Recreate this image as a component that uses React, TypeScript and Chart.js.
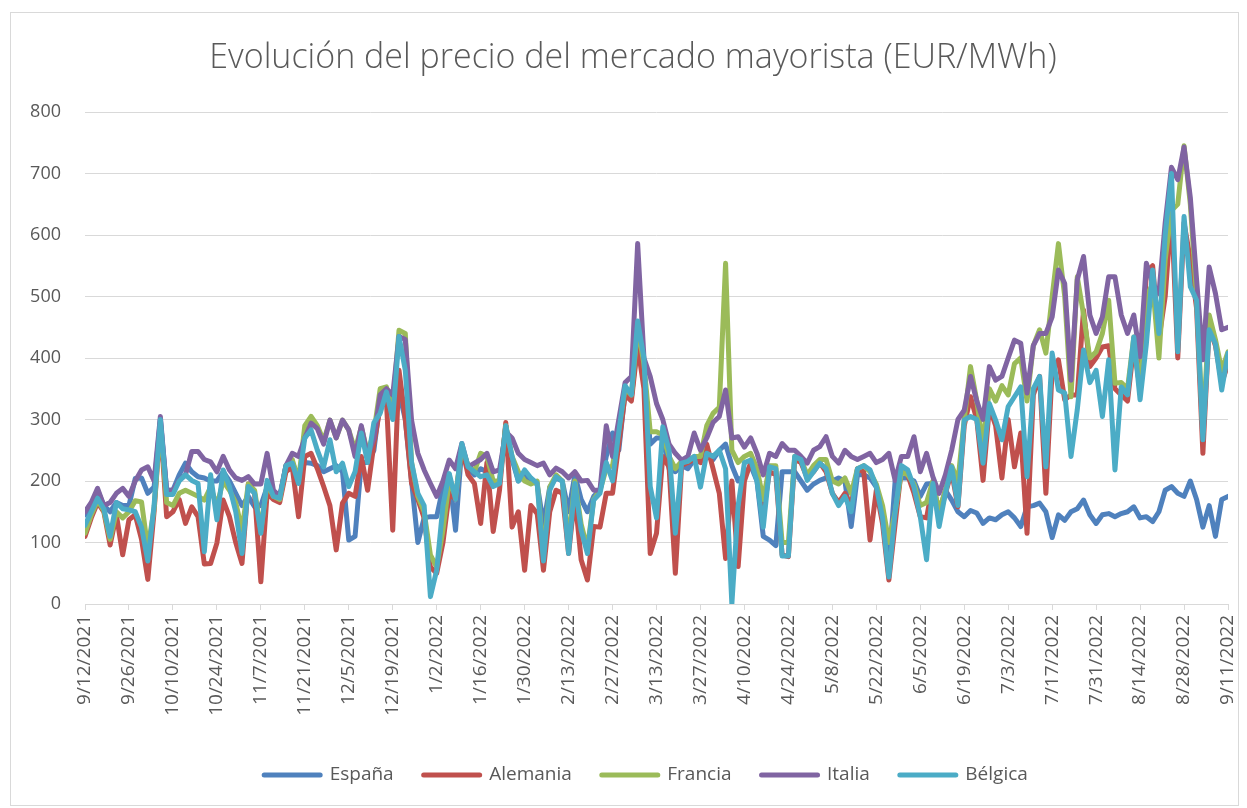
import React, { useEffect, useRef } from 'react';
import { Chart, registerables } from 'chart.js';

Chart.register(...registerables);

// X axis tick labels (every 14 days, starting 9/12/2021)
const tickLabels = ['9/12/2021','9/26/2021','10/10/2021','10/24/2021','11/7/2021','11/21/2021','12/5/2021','12/19/2021','1/2/2022','1/16/2022','1/30/2022','2/13/2022','2/27/2022','3/13/2022','3/27/2022','4/10/2022','4/24/2022','5/8/2022','5/22/2022','6/5/2022','6/19/2022','7/3/2022','7/17/2022','7/31/2022','8/14/2022','8/28/2022','9/11/2022'];
const yTicks = [0, 100, 200, 300, 400, 500, 600, 700, 800];
const seriesNames = ['España', 'Alemania', 'Francia', 'Italia', 'Bélgica'];
const seriesColors = ['#4F81BD', '#C0504D', '#9BBB59', '#8064A2', '#4BACC6'];

// Values read every second day from 9/12/2021 (day 0) to 9/11/2022 (day 364)
const espana = [
145,160,185,160,150,165,160,
160,204,205,180,190,300,185,
185,210,229,215,207,205,200,
200,215,200,180,160,175,158,
160,190,180,172,225,230,205,
230,229,225,215,220,225,215,
104,110,230,230,250,330,345,
340,345,300,200,100,140,142,
142,190,210,120,255,220,210,
220,215,195,200,290,235,200,
210,200,195,130,190,205,200,
150,210,170,150,175,185,240,
278,250,345,335,430,380,260,
270,270,220,215,225,220,235,
235,240,235,250,260,225,200,
210,225,200,110,104,95,215,
215,215,200,185,195,201,205,
200,205,200,126,210,210,205,
190,140,60,200,205,205,200,
175,195,196,150,185,169,150,
142,152,148,131,140,137,145,
150,140,126,158,160,164,150,
108,145,136,150,155,169,145,
131,145,147,142,147,150,158,
140,142,134,150,185,191,180,
175,200,170,125,160,110,170,
175];

const alemania = [
110,140,165,150,96,145,80,
137,145,105,40,150,295,142,
150,170,131,158,142,65,66,
99,169,142,100,66,195,180,
36,180,170,165,215,223,142,
240,245,220,191,160,88,164,
180,175,240,185,260,320,330,
120,380,300,196,170,140,60,
50,100,180,170,255,210,196,
131,230,118,185,295,125,150,
55,160,147,55,150,185,180,
82,175,72,39,126,125,180,
180,260,340,330,420,350,82,
115,240,223,50,225,230,235,
230,260,220,180,74,200,61,
200,230,215,150,215,210,80,
77,235,230,205,215,230,215,
180,165,180,160,220,215,104,
185,130,39,130,220,210,180,
142,140,195,140,180,215,158,
290,337,300,201,320,290,205,
300,223,278,115,340,370,180,
380,397,332,340,340,478,386,
400,418,420,350,340,330,420,
350,540,550,430,500,640,400,
620,560,480,245,450,420,360,
390];

const francia = [
115,145,168,152,105,150,140,
150,168,166,90,155,295,165,
160,180,185,180,175,169,190,
160,200,185,165,120,195,185,
120,195,175,170,225,235,200,
290,305,290,265,299,270,299,
283,250,288,245,280,350,353,
320,445,440,230,175,150,80,
60,120,200,175,255,225,215,
245,240,200,200,290,240,215,
200,195,200,80,190,210,200,
100,200,130,90,170,185,220,
225,285,350,340,450,390,280,
280,275,240,220,232,232,240,
240,290,310,320,554,250,230,
240,245,220,170,225,225,100,
100,240,235,210,225,235,235,
200,195,205,180,220,225,215,
195,160,100,150,215,210,195,
160,165,200,150,185,225,200,
300,386,330,260,350,330,355,
340,391,400,330,420,446,408,
500,586,500,337,532,470,400,
410,440,494,359,360,350,434,
345,500,520,400,560,640,650,
745,650,500,280,470,430,380,
410];

const italia = [
150,165,188,160,165,180,188,
175,200,218,223,200,305,185,
185,201,210,248,248,235,231,
215,240,218,205,201,207,195,
195,245,185,175,225,245,240,
270,294,285,260,299,270,299,
283,240,290,240,270,340,350,
340,435,430,299,245,218,196,
175,200,234,220,261,223,229,
235,245,215,218,280,270,245,
235,230,225,229,210,221,215,
205,215,200,201,185,185,290,
240,300,360,370,586,400,370,
326,300,260,245,234,240,278,
250,270,295,305,348,270,272,
255,270,245,210,245,240,261,
250,250,240,229,250,256,272,
240,229,250,240,235,240,245,
230,235,245,201,240,240,272,
215,245,207,180,210,250,300,
315,370,330,300,386,364,370,
400,429,424,343,420,440,440,
467,543,521,364,527,565,470,
440,467,532,532,470,440,470,
402,554,520,505,620,710,690,
743,661,527,397,548,505,446,
450];

const belgica = [
128,150,172,155,110,165,155,
153,150,125,70,160,300,178,
178,200,210,201,196,85,210,
137,218,191,150,82,191,180,
115,201,175,172,225,229,196,
270,283,250,223,267,215,229,
191,215,278,230,295,310,345,
300,435,380,230,180,160,12,
55,160,212,170,261,223,215,
207,210,191,196,290,240,200,
218,205,196,70,185,207,200,
82,196,120,82,169,180,230,
200,280,355,340,460,400,191,
140,288,250,115,229,232,240,
190,245,240,250,220,0,160,
230,234,200,125,223,220,78,
78,240,235,201,215,229,220,
180,160,175,150,220,225,218,
191,140,44,150,225,218,190,
142,72,196,126,180,223,160,
299,305,300,229,326,299,267,
321,337,353,207,350,370,223,
408,348,343,240,316,413,360,
380,305,397,218,353,340,434,
332,423,543,440,600,700,410,
630,516,494,267,446,423,348,
408];

const seriesValues = [espana, alemania, francia, italia, belgica];

const boxShift = {
  id: 'boxShift',
  afterLayout(chart: any) {
    if (chart.legend) {
      chart.legend.left += 27;
      chart.legend.right += 27;
    }
    if (chart.titleBlock) {
      chart.titleBlock.left += 14;
      chart.titleBlock.right += 14;
    }
  },
};

export default function App() {
  const ref = useRef<HTMLCanvasElement>(null);

  useEffect(() => {
    document.body.style.margin = '0';
    Chart.defaults.font.family = "'Open Sans', sans-serif";
    Chart.defaults.color = '#595959';
    const days = espana.map((_, i) => i * 2);

    const datasets = seriesNames.map((name, s) => ({
      label: name,
      data: seriesValues[s].map((v, i) => ({ x: days[i], y: v })),
      borderColor: seriesColors[s],
      backgroundColor: seriesColors[s],
      borderWidth: 5,
      pointRadius: 0,
      pointHoverRadius: 0,
      tension: 0,
      borderJoinStyle: 'round' as const,
      borderCapStyle: 'round' as const,
      order: seriesNames.length - s,
    }));

    const chart = new Chart(ref.current as HTMLCanvasElement, {
      type: 'line',
      data: { datasets },
      plugins: [boxShift],
      options: {
        animation: false,
        responsive: false,
        events: [],
        layout: { padding: { left: 10, right: 19, top: 0, bottom: 13.5 } },
        plugins: {
          title: {
            display: true,
            text: 'Evolución del precio del mercado mayorista (EUR/MWh)',
            color: '#595959',
            font: { family: "'Open Sans', sans-serif", size: 34, weight: 300 as any, lineHeight: 1.2 },
            padding: { top: 37.6, bottom: 33.6 },
          },
          legend: {
            position: 'bottom',
            labels: {
              usePointStyle: true,
              pointStyle: 'line',
              pointStyleWidth: 56,
              font: { size: 19 },
              color: '#595959',
              padding: 30,
              sort: (a: any, b: any) => a.datasetIndex - b.datasetIndex,
              generateLabels: (c: any) => {
                const items = Chart.defaults.plugins.legend.labels.generateLabels(c);
                return items.map((it: any) => ({
                  ...it,
                  lineWidth: 5,
                  lineCap: 'round',
                  strokeStyle: seriesColors[it.datasetIndex],
                  fillStyle: seriesColors[it.datasetIndex],
                }));
              },
            },
          },
          tooltip: { enabled: false },
        },
        scales: {
          x: {
            type: 'linear',
            min: 0,
            max: 364,
            ticks: {
              stepSize: 14,
              autoSkip: false,
              maxRotation: 90,
              minRotation: 90,
              padding: 5,
              font: { size: 19 },
              color: '#595959',
              callback: (v: any) => tickLabels[Math.round(Number(v) / 14)] ?? '',
            },
            grid: { drawOnChartArea: false, drawTicks: true, tickLength: 6, color: '#d9d9d9' },
            border: { color: '#d9d9d9', width: 1 },
            afterFit: (s: any) => {
              s.height = 131.5;
              s.paddingLeft = 0;
              s.paddingRight = 0;
            },
          },
          y: {
            min: 0,
            max: 800,
            afterBuildTicks: (s: any) => { s.ticks = yTicks.map((v) => ({ value: v })); },
            ticks: { font: { size: 18 }, color: '#595959', padding: 24 },
            grid: { color: '#d9d9d9', drawTicks: false, lineWidth: 1 },
            border: { display: false },
            afterFit: (s: any) => { s.width = 75; },
          },
        },
      },
    });
    return () => chart.destroy();
  }, []);

  return (
    <div style={{ position: 'relative', width: 1247, height: 808, background: '#ffffff' }}>
      <style>{'body{margin:0}'}</style>
      <canvas ref={ref} width={1247} height={808} style={{ position: 'absolute', left: 0, top: 0, width: 1247, height: 808 }} />
      <div style={{ position: 'absolute', left: 10, top: 12, width: 1229, height: 794, border: '1px solid #d9d9d9', pointerEvents: 'none', boxSizing: 'border-box' }} />
    </div>
  );
}
